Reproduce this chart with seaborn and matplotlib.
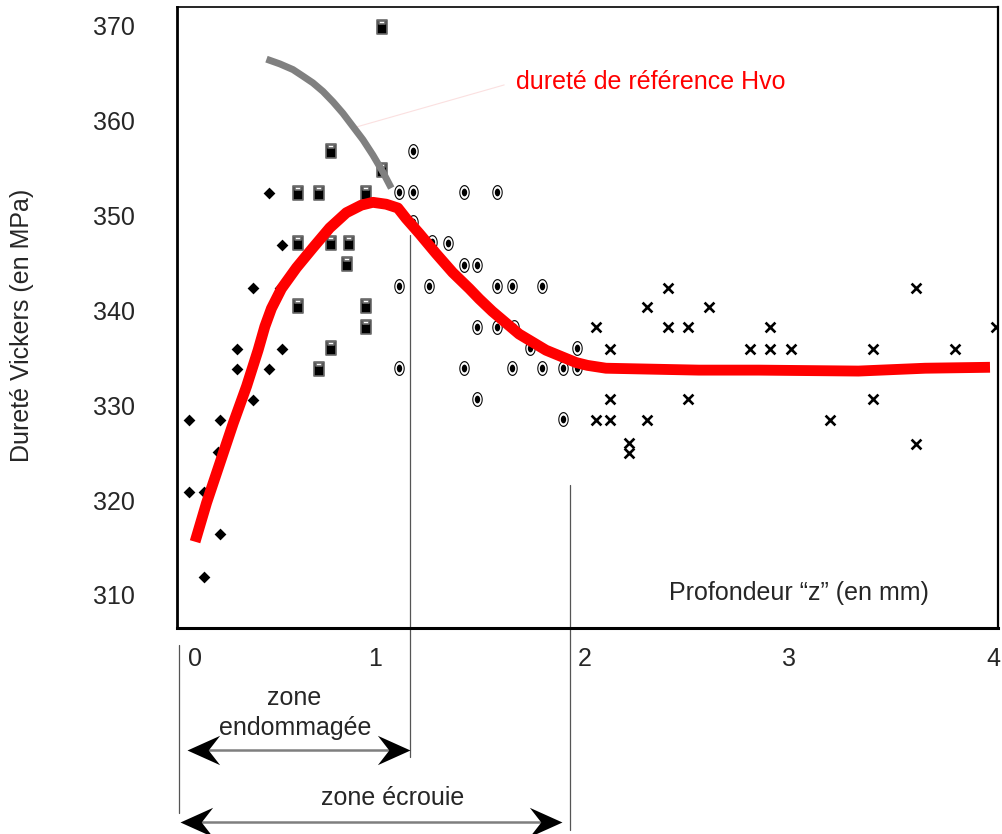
import numpy as np
import matplotlib
matplotlib.use("Agg")
import matplotlib.pyplot as plt
from matplotlib.path import Path
from matplotlib.markers import MarkerStyle
import seaborn as sns

# ---------------- data ----------------
# Series 1: diamonds (near surface)
diam_x = [0.06, 0.21, 0.06, 0.13, 0.21, 0.13, 0.29, 0.51, 0.29, 0.45, 0.37, 0.20, 0.45, 0.51, 0.37, 0.50]
diam_y = [328.4, 328.4, 320.8, 320.8, 316.4, 311.9, 335.9, 335.9, 333.8, 333.8, 330.6, 325.1, 352.4, 346.9, 342.4, 342.4]

# Series 2: half-filled rectangles
sq_x = [0.59, 0.69, 0.92, 0.59, 0.75, 0.84, 0.83, 0.59, 0.92, 0.92, 0.75, 0.69, 1.00, 0.75, 1.00]
sq_y = [352.4, 352.4, 352.4, 347.1, 347.1, 347.1, 344.9, 340.5, 340.5, 338.3, 336.0, 333.8, 369.9, 356.8, 354.8]

# Series 3: bullseye ellipses
circ_x = [1.08, 1.15, 1.40, 1.56, 1.15, 1.15, 1.24, 1.32, 1.40, 1.46, 1.08, 1.23, 1.56, 1.63,
          1.78, 1.46, 1.56, 1.64, 1.72, 1.95, 1.08, 1.40, 1.63, 1.78, 1.88, 1.95, 1.46, 1.88]
circ_y = [352.5, 352.5, 352.5, 352.5, 356.8, 349.3, 347.2, 347.1, 344.8, 344.8, 342.6, 342.6, 342.6, 342.6,
          342.6, 338.3, 338.3, 338.3, 336.0, 336.0, 333.9, 333.9, 333.9, 333.9, 333.9, 333.9, 330.7, 328.5]

# Series 4: crosses (deep)
cross_x = [2.39, 3.60, 2.29, 2.59, 2.04, 2.39, 2.49, 2.89, 3.99, 2.11, 2.79, 2.89, 2.99, 3.39, 3.79,
           2.11, 2.49, 3.39, 2.04, 2.11, 2.29, 3.18, 2.20, 2.20, 3.60]
cross_y = [342.4, 342.4, 340.4, 340.4, 338.2, 338.2, 338.2, 338.2, 338.2, 335.9, 335.9, 335.9, 335.9, 335.9, 335.9,
           330.7, 330.7, 330.7, 328.4, 328.4, 328.4, 328.4, 326.0, 325.0, 325.9]

# Red trend curve
red_x = [0.088, 0.144, 0.209, 0.274, 0.339, 0.395, 0.428, 0.460, 0.509, 0.582, 0.662, 0.744, 0.825,
         0.898, 0.954, 1.019, 1.076, 1.116, 1.181, 1.262, 1.343, 1.424, 1.473, 1.536, 1.667, 1.798,
         1.944, 2.0, 2.09, 2.542, 2.834, 3.32, 3.645, 3.961]
red_y = [315.6, 319.7, 323.9, 328.1, 332.0, 335.8, 338.3, 340.2, 342.3, 344.5, 346.6, 348.7, 350.3,
         351.1, 351.4, 351.2, 350.8, 349.7, 348.1, 346.0, 344.0, 342.3, 341.2, 339.9, 337.5, 335.8,
         334.5, 334.2, 333.9, 333.7, 333.7, 333.6, 333.9, 334.0]

# Grey reference-hardness curve
grey_x = [0.436, 0.501, 0.565, 0.614, 0.662, 0.711, 0.760, 0.808, 0.857, 0.906, 0.954, 1.003, 1.044]
grey_y = [366.5, 366.0, 365.4, 364.7, 364.0, 363.1, 362.0, 360.8, 359.4, 358.0, 356.4, 354.6, 352.9]

x_tick_labels = ["0", "1", "2", "3", "4"]
x_label_pos = [0.087, 0.967, 1.988, 2.984, 3.976]
y_tick_labels = [310, 320, 330, 340, 350, 360, 370]

XLIM = (0.0, 3.99)
YLIM = (306.5, 372.0)

# zone annotations (x in mm)
z_endo = 1.137     # limit of damaged zone
z_ecr = 1.915      # limit of work-hardened zone

# ---------------- marker shapes ----------------
def ring(a, b, reverse=False, n=48):
    t = np.linspace(0, 2 * np.pi, n, endpoint=False)
    if reverse:
        t = t[::-1]
    v = np.column_stack([a * np.cos(t), b * np.sin(t)])
    v = np.vstack([v, v[:1]])
    c = [Path.MOVETO] + [Path.LINETO] * (n - 1) + [Path.CLOSEPOLY]
    return v, c

def rect(x0, y0, x1, y1, reverse=False):
    v = np.array([[x0, y0], [x1, y0], [x1, y1], [x0, y1]])
    if reverse:
        v = v[::-1]
    v = np.vstack([v, v[:1]])
    c = [Path.MOVETO] + [Path.LINETO] * 3 + [Path.CLOSEPOLY]
    return v, c

def compound(parts):
    vs = np.vstack([p[0] for p in parts])
    cs = sum([p[1] for p in parts], [])
    return Path(vs, cs)

bull_path = compound([ring(0.35, 0.5), ring(0.28, 0.42, reverse=True), ring(0.18, 0.26)])
sq_path = compound([rect(-0.36, -0.5, 0.36, 0.5), rect(-0.24, 0.2, 0.24, 0.4, reverse=True)])
diam_path = Path([[0, 0.5], [0.5, 0], [0, -0.5], [-0.5, 0], [0, 0.5]],
                 [Path.MOVETO, Path.LINETO, Path.LINETO, Path.LINETO, Path.CLOSEPOLY])
head_left = Path([[0, 0], [1, 0.45], [0.65, 0], [1, -0.45], [0, 0]],
                 [Path.MOVETO, Path.LINETO, Path.LINETO, Path.LINETO, Path.CLOSEPOLY])
head_right = Path([[0, 0], [-1, 0.45], [-0.65, 0], [-1, -0.45], [0, 0]],
                  [Path.MOVETO, Path.LINETO, Path.LINETO, Path.LINETO, Path.CLOSEPOLY])

# ---------------- figure ----------------
sns.set_style("white")
plt.rcParams["font.family"] = ["Liberation Sans", "DejaVu Sans"]
plt.rcParams["font.size"] = 18

fig = plt.figure(figsize=(10.02, 8.34), dpi=100)
ax = fig.add_axes([0.17665, 0.2470, 0.81936, 0.74460])

# faint leader line to the label
ax.plot([0.875, 1.594], [359.35, 363.78], color="#fbe0e0", lw=0.8, zorder=1)

sns.scatterplot(x=diam_x, y=diam_y, marker=MarkerStyle(diam_path), s=72, color="black",
                edgecolor="black", linewidth=0, ax=ax, zorder=3)
sns.scatterplot(x=sq_x, y=sq_y, marker=MarkerStyle(sq_path), s=100, color="black",
                edgecolor="#6a6a6a", linewidth=1.2, ax=ax, zorder=3)
sns.scatterplot(x=circ_x, y=circ_y, marker=MarkerStyle(bull_path), s=115, color="black",
                edgecolor="black", linewidth=0, ax=ax, zorder=3)
sns.scatterplot(x=cross_x, y=cross_y, marker="x", s=50, color="black", linewidth=1.9, ax=ax, zorder=3)

sns.lineplot(x=grey_x, y=grey_y, sort=False, estimator=None, color="#808080", lw=5,
             solid_capstyle="butt", ax=ax, zorder=4)
sns.lineplot(x=red_x, y=red_y, sort=False, estimator=None, color="#ff0000", lw=7.8,
             solid_capstyle="butt", solid_joinstyle="round", ax=ax, zorder=5)

ax.set_xlim(*XLIM)
ax.set_ylim(*YLIM)

# ticks
ax.set_xticks(x_label_pos, labels=x_tick_labels)
ax.set_xticks(np.arange(0, 4.01, 0.5), minor=True)
ax.tick_params(axis="x", which="major", length=0, pad=14, labelsize=18)
ax.tick_params(axis="x", which="minor", direction="in", length=3.5, width=1.2, color="black")
ax.set_yticks(y_tick_labels, labels=[str(v) for v in y_tick_labels])
ax.set_yticks(np.linspace(YLIM[0], YLIM[1], 7)[1:-1], minor=True)
ax.tick_params(axis="y", which="major", length=0, pad=30, labelsize=18)
ax.tick_params(axis="y", which="minor", direction="out", length=3.8, width=1.3, color="black")
ax.set_xlabel("")
ax.set_ylabel("")

for side, lw in [("left", 2.0), ("bottom", 2.2), ("top", 1.2), ("right", 1.6)]:
    ax.spines[side].set_visible(True)
    ax.spines[side].set_color("black")
    ax.spines[side].set_linewidth(lw)

# texts
fig.text(22 / 1002, 1 - 325 / 834, "Dureté Vickers (en MPa)", rotation=90,
         ha="center", va="center", fontsize=18)
ax.text(2.396, 310.2, "Profondeur “z” (en mm)", ha="left", va="center", fontsize=18)
ax.text(1.652, 364.1, "dureté de référence Hvo", ha="left", va="center", fontsize=18, color="#ff0000")

# zone limits and arrows (below the axes)
vl = dict(color="#555555", lw=0.9, clip_on=False, zorder=2)
ax.plot([z_endo, z_endo], [347.96, 292.9], **vl)
ax.plot([z_ecr, z_ecr], [321.6, 285.2], **vl)
ax.plot([0.01, 0.01], [304.7, 287.0], **vl)

def zone_arrow(x0, x1, y):
    ax.plot([x0 + 0.05, x1 - 0.05], [y, y], color="#7f7f7f", lw=1.8, clip_on=False, zorder=2)
    ax.plot([x0], [y], marker=MarkerStyle(head_left), markersize=47, color="black",
            markeredgewidth=0, clip_on=False, zorder=3)
    ax.plot([x1], [y], marker=MarkerStyle(head_right), markersize=47, color="black",
            markeredgewidth=0, clip_on=False, zorder=3)

zone_arrow(0.051, z_endo, 293.65)
zone_arrow(0.015, 1.876, 286.06)

ax.text(0.569, 299.1, "zone", ha="center", va="center", fontsize=18)
ax.text(0.574, 295.9, "endommagée", ha="center", va="center", fontsize=18)
ax.text(1.05, 288.6, "zone écrouie", ha="center", va="center", fontsize=18)

fig.savefig("out.png", dpi=100)
